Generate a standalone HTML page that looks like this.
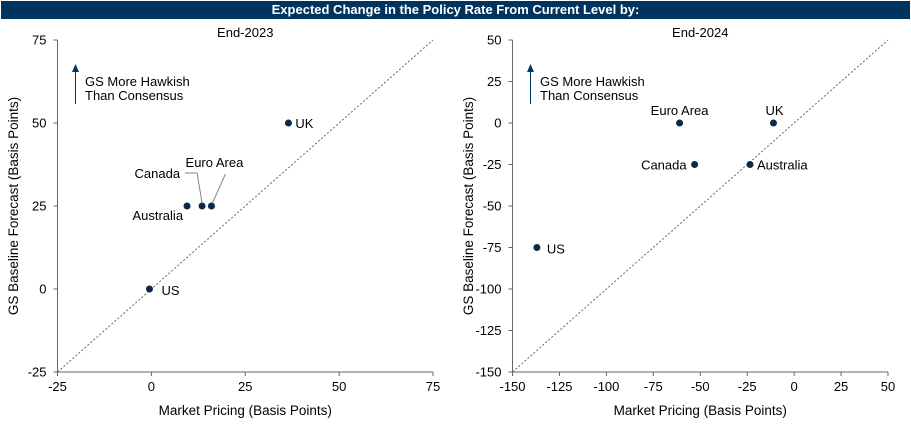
<!DOCTYPE html>
<html><head><meta charset="utf-8"><style>
html,body{margin:0;padding:0;background:#fff;width:911px;height:427px;overflow:hidden}
#hdr{position:absolute;left:1px;top:1px;width:909px;height:18px;background:#00345e;color:#fff;font:bold 13px "Liberation Sans",sans-serif;text-align:center;line-height:18px}
svg{position:absolute;left:0;top:0}
text{font-family:"Liberation Sans",sans-serif;font-size:13px;fill:#000}
.ax{font-size:13.5px}
</style></head><body>
<div id="hdr">Expected Change in the Policy Rate From Current Level by:</div>
<svg id="svg" width="911" height="427"></svg>
<script>
const countries1=["US","Australia","Canada","Euro Area","UK"];
const xVals1=[-0.5,9.5,13.5,16,36.5];
const yVals1=[0,25,25,25,50];
const xTicks1=[-25,0,25,50,75];
const yTicks1=[-25,0,25,50,75];
const countries2=["US","Euro Area","Canada","Australia","UK"];
const xVals2=[-137,-61,-53,-23.5,-11];
const yVals2=[-75,0,-25,-25,0];
const xTicks2=[-150,-125,-100,-75,-50,-25,0,25,50];
const yTicks2=[-150,-125,-100,-75,-50,-25,0,25,50];
const NS="http://www.w3.org/2000/svg";
const svg=document.getElementById('svg');
function el(t,a,p){const e=document.createElementNS(NS,t);for(const k in a)e.setAttribute(k,a[k]);(p||svg).appendChild(e);return e;}
function txt(s,a,p){const e=el('text',a,p);e.textContent=s;return e;}
function chart(ox,title,xt,yt,cs,xs,ys,labels,name){
 const g=el('g',{});
 
 
 const L=ox+57.5,R=ox+433,T=40,B=372;
 const xmin=xt[0],xmax=xt[xt.length-1],ymin=yt[0],ymax=yt[yt.length-1];
 const sx=v=>L+(v-xmin)/(xmax-xmin)*(R-L), sy=v=>B-(v-ymin)/(ymax-ymin)*(B-T);
 const st=txt(title,{x:(L+R)/2,y:37,'text-anchor':'middle'},g);
 
 const d=el('line',{x1:sx(xmin),y1:sy(ymin),x2:sx(xmax),y2:sy(ymax),stroke:'#666','stroke-dasharray':'2,2','stroke-width':1},g);
 
 const ya=el('line',{x1:L,y1:T,x2:L,y2:B,stroke:'#666'},g);
 
 const xa=el('line',{x1:L,y1:B,x2:R,y2:B,stroke:'#666'},g);
 
 yt.forEach(v=>{el('line',{x1:L-4,y1:sy(v),x2:L,y2:sy(v),stroke:'#666'},g);
  const t=txt(String(v),{x:L-11,y:sy(v)+4.5,'text-anchor':'end'},g);
  });
 xt.forEach(v=>{el('line',{x1:sx(v),y1:B,x2:sx(v),y2:B+4,stroke:'#666'},g);
  const t=txt(String(v),{x:sx(v),y:B+19,'text-anchor':'middle'},g);
  });
 const xl=txt('Market Pricing (Basis Points)',{x:(L+R)/2,y:415,'text-anchor':'middle',class:'ax'},g);
 
 const yl=txt('GS Baseline Forecast (Basis Points)',{x:0,y:0,'text-anchor':'middle',class:'ax',transform:`translate(${ox+18},${(T+B)/2}) rotate(-90)`},g);
 
 const ar=el('g',{},g);
 
 el('line',{x1:ox+75.5,y1:104,x2:ox+75.5,y2:72,stroke:'#003660','stroke-width':1},ar);
 el('polygon',{points:`${ox+72},${72} ${ox+79},${72} ${ox+75.5},${64}`,fill:'#003660'},ar);
 txt('GS More Hawkish',{x:ox+85,y:86},ar);txt('Than Consensus',{x:ox+85,y:100},ar);
 cs.forEach((c,i)=>{
  const p=el('circle',{cx:sx(xs[i]),cy:sy(ys[i]),r:3.5,fill:'#0b2a4a'},g);
  
  
  const lb=labels[c];
  const t=txt(c,{x:sx(xs[i])+lb[0],y:sy(ys[i])+lb[1],'text-anchor':lb[2]},g);
  
  
  if(lb[3]){el('polyline',{points:lb[3](sx(xs[i]),sy(ys[i])),fill:'none',stroke:'#888'},g);}
 });
}
chart(0,'End-2023',xTicks1,yTicks1,countries1,xVals1,yVals1,{
 'US':[12,6,'start'],'Australia':[-4,14,'end'],
 'Canada':[-22,-28,'end',(x,y)=>`${x},${y-3} ${x-5},${y-33} ${x-17},${y-33}`],
 'Euro Area':[3,-39,'middle',(x,y)=>`${x+1},${y-3} ${x+14},${y-32}`],
 'UK':[7,5,'start']},'chart-end-2023');
chart(455,'End-2024',xTicks2,yTicks2,countries2,xVals2,yVals2,{
 'US':[10,6,'start'],'Euro Area':[0,-8,'middle'],'Canada':[-8,5,'end'],
 'Australia':[7,5,'start'],'UK':[1,-8,'middle']},'chart-end-2024');
</script>
</body></html>
